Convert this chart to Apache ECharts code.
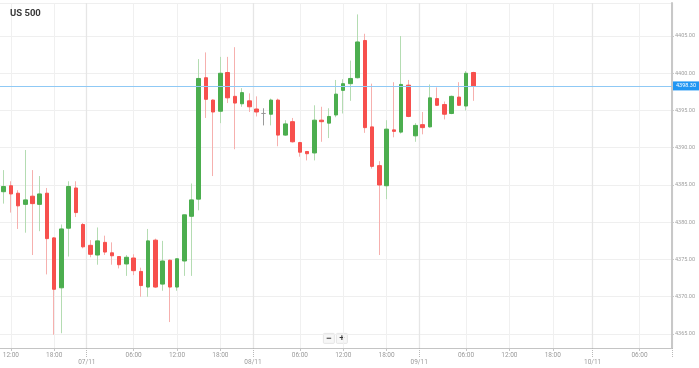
<!DOCTYPE html>
<html><head><meta charset="utf-8">
<script src="https://cdn.jsdelivr.net/npm/echarts@6/dist/echarts.min.js"></script>
<style>html,body{margin:0;padding:0;background:#fff}#c{width:699px;height:368px}</style>
</head><body><div id="c"></div>
<script>
const chartTitle = 'US 500';

// hourly slots (one hour missing per trading day, none in the future area)
const categories = [
 '06/11 11:00','06/11 12:00','06/11 13:00','06/11 14:00','06/11 15:00','06/11 16:00','06/11 17:00','06/11 18:00','06/11 19:00','06/11 20:00','06/11 21:00','06/11 22:00',
 '07/11 00:00','07/11 01:00','07/11 02:00','07/11 03:00','07/11 04:00','07/11 05:00','07/11 06:00','07/11 07:00','07/11 08:00','07/11 09:00','07/11 10:00','07/11 11:00','07/11 12:00','07/11 13:00','07/11 14:00','07/11 15:00','07/11 16:00','07/11 17:00','07/11 18:00','07/11 19:00','07/11 20:00','07/11 21:00','07/11 22:00',
 '08/11 00:00','08/11 01:00','08/11 02:00','08/11 03:00','08/11 04:00','08/11 05:00','08/11 06:00','08/11 07:00','08/11 08:00','08/11 09:00','08/11 10:00','08/11 11:00','08/11 12:00','08/11 13:00','08/11 14:00','08/11 15:00','08/11 16:00','08/11 17:00','08/11 18:00','08/11 19:00','08/11 20:00','08/11 21:00','08/11 22:00',
 '09/11 00:00','09/11 01:00','09/11 02:00','09/11 03:00','09/11 04:00','09/11 05:00','09/11 06:00','09/11 07:00','09/11 08:00','09/11 09:00','09/11 10:00','09/11 11:00','09/11 12:00','09/11 13:00','09/11 14:00','09/11 15:00','09/11 16:00','09/11 17:00','09/11 18:00','09/11 19:00','09/11 20:00','09/11 21:00','09/11 22:00','09/11 23:00',
 '10/11 00:00','10/11 01:00','10/11 02:00','10/11 03:00','10/11 04:00','10/11 05:00','10/11 06:00','10/11 07:00','10/11 08:00','10/11 09:00','10/11 10:00'
];
const timeTickLabels = ['06:00','12:00','18:00'];
const dateTickHour = '00:00';

const opens = [4384.1,4384.9,4383.9,4382.4,4383.5,4382.4,4383.9,4377.9,4371.2,4379.2,
 4384.6,4379.7,4376.9,4375.6,4377.3,4375.9,4375.4,4374.4,4375.2,4373.4,
 4371.3,4377.6,4371.7,4374.9,4371.3,4374.8,4380.8,4383.1,4399.4,4396.4,
 4394.9,4400.1,4396.9,4395.9,4396.3,4395.2,4394.6,4394.5,4396.4,4391.7,
 4393.5,4390.7,4389.5,4389.3,4393.7,4393.3,4394.4,4397.7,4398.6,4399.4,
 4404.4,4392.8,4387.6,4384.9,4392.4,4392.1,4398.4,4391.6,4393.1,4392.8,
 4396.6,4395.8,4394.6,4396.8,4395.6,4400.1];
const closes = [4384.8,4383.8,4382.2,4383.0,4382.5,4383.8,4377.8,4371.0,4379.1,4384.8,
 4381.3,4376.7,4375.7,4377.5,4376.0,4375.5,4374.3,4375.3,4373.5,4371.5,
 4377.5,4371.3,4374.8,4371.3,4375.1,4381.0,4383.0,4399.3,4396.5,4394.8,
 4400.0,4396.7,4396.0,4397.4,4395.5,4394.8,4394.6,4396.4,4391.7,4393.2,
 4390.8,4389.4,4389.2,4393.7,4393.5,4394.2,4397.2,4398.6,4399.3,4404.2,
 4392.7,4387.5,4385.0,4392.5,4392.2,4398.5,4394.2,4393.0,4392.7,4396.7,
 4395.7,4394.5,4396.9,4395.7,4400.0,4398.3];
const highs = [4387.0,4385.5,4384.3,4389.7,4387.0,4386.2,4384.6,4378.0,4379.7,4385.5,
 4385.5,4379.9,4377.6,4379.3,4378.2,4377.3,4375.4,4375.6,4375.7,4373.9,
 4379.1,4377.8,4377.5,4375.0,4375.1,4381.0,4385.2,4401.9,4402.8,4396.5,
 4402.2,4402.2,4403.5,4398.0,4397.3,4396.9,4395.3,4396.6,4396.6,4393.7,
 4394.0,4390.8,4389.5,4395.7,4395.5,4395.3,4399.1,4399.2,4401.7,4407.9,
 4405.3,4398.6,4388.2,4393.7,4398.8,4405.0,4399.1,4393.3,4394.8,4398.5,
 4398.1,4396.2,4397.0,4398.8,4400.3,4400.2];
const lows = [4382.5,4381.3,4379.1,4378.6,4375.6,4378.8,4373.0,4364.9,4365.1,4375.4,
 4380.7,4376.5,4375.3,4374.3,4375.6,4374.3,4373.8,4372.8,4372.9,4370.0,
 4370.0,4371.2,4370.8,4366.6,4370.8,4372.8,4372.8,4381.6,4394.0,4386.2,
 4393.3,4396.0,4389.8,4395.5,4394.8,4394.2,4393.0,4393.0,4390.2,4391.6,
 4390.7,4388.8,4388.3,4388.3,4390.8,4391.3,4394.1,4394.6,4396.3,4399.3,
 4392.0,4387.2,4375.6,4383.1,4391.4,4391.9,4394.1,4390.8,4391.8,4392.7,
 4395.6,4393.8,4394.5,4395.6,4395.0,4396.3];

const yMin = 4363.12, yMax = 4409.43;

const fullCandles = opens.map((o, i) => [o, closes[i], lows[i], highs[i]]);
const bodyCandles = opens.map((o, i) => [o, closes[i], Math.min(o, closes[i]), Math.max(o, closes[i])]);
const lastClose = closes[closes.length - 1];

const hourOf = c => c.split(' ')[1];
const dateOf = c => c.split(' ')[0];
const isTime = (i, v) => timeTickLabels.indexOf(hourOf(v)) >= 0;
const isDate = (i, v) => hourOf(v) === dateTickHour;

const UP = '#4cae4f', DOWN = '#f7504d', UP_W = '#b4dcb2', DOWN_W = '#f6b0ae', DOJI = '#9a9a9a';
const FONT = 'Roboto, "DejaVu Sans", sans-serif';

const chart = echarts.init(document.getElementById('c'), null, {renderer: 'canvas'});
chart.setOption({
  animation: false,
  backgroundColor: '#fff',
  title: {text: chartTitle, left: 10, top: 9, padding: 0,
    textStyle: {fontSize: 9.5, fontWeight: 'bold', color: '#3a3a3a', fontFamily: FONT}},
  grid: {left: 0, right: 27, top: 3, bottom: 20, containLabel: false, outerBoundsMode: 'none'},
  xAxis: [{
    type: 'category', data: categories, boundaryGap: true, position: 'bottom',
    axisLine: {lineStyle: {color: '#c4c4c4', width: 1.2}},
    axisTick: {show: true, interval: isTime, alignWithLabel: true, length: 3, lineStyle: {color: '#c4c4c4'}},
    axisLabel: {interval: isTime, formatter: v => hourOf(v), fontSize: 6.5, color: '#9a9a9a', margin: 4, fontFamily: FONT},
    splitLine: {show: true, interval: isTime, alignWithLabel: true, lineStyle: {color: '#f0f0f0', width: 1}}
  }, {
    type: 'category', data: categories, boundaryGap: true, position: 'bottom', offset: 0,
    axisLine: {show: false},
    axisTick: {show: true, interval: isDate, length: 9, lineStyle: {color: '#b8b8b8', type: 'dotted'}},
    axisLabel: {interval: isDate, formatter: v => '{d|' + dateOf(v) + '}', margin: 11,
      rich: {d: {fontSize: 6.5, color: '#9a9a9a', padding: [0, 7, 0, 0], fontFamily: FONT}}},
    splitLine: {show: true, interval: isDate, lineStyle: {color: '#e6e6e6', width: 1.3}}
  }],
  yAxis: {
    type: 'value', position: 'right', min: yMin, max: yMax, splitNumber: 9, scale: true,
    axisLine: {show: true, lineStyle: {color: '#c8c8c8', width: 2}},
    axisTick: {show: true, length: 2, lineStyle: {color: '#c8c8c8'}},
    axisLabel: {formatter: v => v.toFixed(2), fontSize: 5.5, color: '#a0a0a0', margin: 3,
      showMinLabel: false, showMaxLabel: false, fontFamily: FONT},
    splitLine: {show: true, lineStyle: {color: '#efefef', width: 1}}
  },
  series: [{
    name: 'wicks', type: 'candlestick', xAxisIndex: 0, data: fullCandles, barWidth: 1,
    itemStyle: {color: UP_W, color0: DOWN_W, borderColor: UP_W, borderColor0: DOWN_W, borderColorDoji: DOJI, borderWidth: 1}
  }, {
    name: 'US 500', type: 'candlestick', xAxisIndex: 0, data: bodyCandles, barWidth: 4,
    itemStyle: {color: UP, color0: DOWN, borderColor: UP, borderColor0: DOWN, borderColorDoji: DOJI, borderWidth: 1},
    markLine: {
      silent: true, symbol: 'none',
      lineStyle: {color: '#8fc9f5', type: 'solid', width: 1},
      label: {position: 'end', distance: 1, formatter: p => Number(p.value).toFixed(2),
        backgroundColor: '#2196f3', color: '#fff', fontSize: 5.5, padding: [2, 3, 1, 3], fontFamily: FONT},
      data: [{yAxis: lastClose}]
    }
  }],
  graphic: [{
    type: 'group', left: 323, top: 333,
    children: [
      {type: 'rect', shape: {x: 0, y: 0, width: 11, height: 10, r: 1}, style: {fill: '#f7f7f7', stroke: '#e0e0e0', lineWidth: 0.8}},
      {type: 'text', x: 5.5, y: 5, style: {text: '−', fill: '#333', fontSize: 9, fontWeight: 'bold', align: 'center', verticalAlign: 'middle'}},
      {type: 'rect', shape: {x: 13, y: 0, width: 11, height: 10, r: 1}, style: {fill: '#f7f7f7', stroke: '#e0e0e0', lineWidth: 0.8}},
      {type: 'text', x: 18.5, y: 5, style: {text: '+', fill: '#333', fontSize: 9, fontWeight: 'bold', align: 'center', verticalAlign: 'middle'}}
    ]
  }]
});
</script>
</body></html>
